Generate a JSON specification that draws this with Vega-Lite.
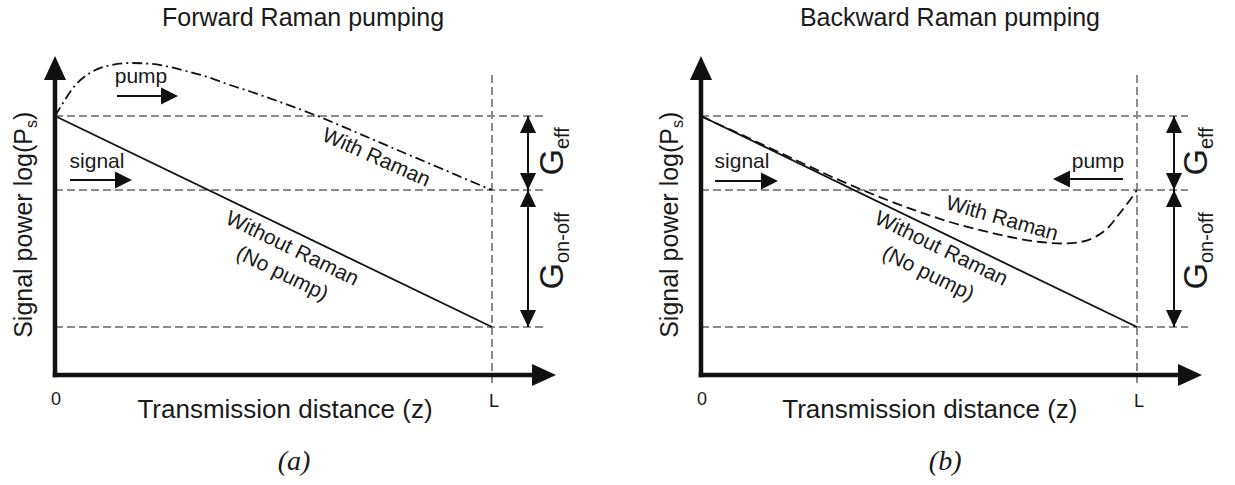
{
  "$schema": "https://vega.github.io/schema/vega-lite/v6.json",
  "background": "white",
  "padding": 0,
  "spacing": 0,
  "config": {"view": {"stroke": null}, "text": {"font": "Liberation Sans", "color": "#1a1a1a"}},
  "datasets": {
    "grid": [
      {"panel": "a", "x": 0, "y": 25.9, "x2": 1.117, "y2": 25.9},
      {"panel": "a", "x": 0, "y": 18.5, "x2": 1.117, "y2": 18.5},
      {"panel": "a", "x": 0, "y": 4.8, "x2": 1.117, "y2": 4.8},
      {"panel": "a", "x": 1, "y": 30, "x2": 1, "y2": -0.8},
      {"panel": "b", "x": 0, "y": 25.9, "x2": 1.117, "y2": 25.9},
      {"panel": "b", "x": 0, "y": 18.5, "x2": 1.117, "y2": 18.5},
      {"panel": "b", "x": 0, "y": 4.8, "x2": 1.117, "y2": 4.8},
      {"panel": "b", "x": 1, "y": 30, "x2": 1, "y2": -0.8}
    ],
    "curves": [
      {"panel": "a", "series": "without", "x": 0, "y": 25.9},
      {"panel": "a", "series": "without", "x": 1, "y": 4.8},
      {"panel": "a", "series": "with", "x": 0, "y": 25.9},
      {"panel": "a", "series": "with", "x": 0.0183, "y": 27.2},
      {"panel": "a", "series": "with", "x": 0.0412, "y": 28.7},
      {"panel": "a", "series": "with", "x": 0.08, "y": 30.2},
      {"panel": "a", "series": "with", "x": 0.119, "y": 30.9},
      {"panel": "a", "series": "with", "x": 0.1716, "y": 31.2},
      {"panel": "a", "series": "with", "x": 0.21, "y": 31.15},
      {"panel": "a", "series": "with", "x": 0.252, "y": 30.9},
      {"panel": "a", "series": "with", "x": 0.3, "y": 30.4},
      {"panel": "a", "series": "with", "x": 0.35, "y": 29.8},
      {"panel": "a", "series": "with", "x": 0.4, "y": 29.0},
      {"panel": "a", "series": "with", "x": 0.45, "y": 28.3},
      {"panel": "a", "series": "with", "x": 0.515, "y": 27.3},
      {"panel": "a", "series": "with", "x": 0.606, "y": 25.8},
      {"panel": "a", "series": "with", "x": 0.698, "y": 24.1},
      {"panel": "a", "series": "with", "x": 0.789, "y": 22.4},
      {"panel": "a", "series": "with", "x": 0.881, "y": 20.7},
      {"panel": "a", "series": "with", "x": 0.95, "y": 19.4},
      {"panel": "a", "series": "with", "x": 1.0, "y": 18.5},
      {"panel": "b", "series": "without", "x": 0, "y": 25.9},
      {"panel": "b", "series": "without", "x": 1, "y": 4.8},
      {"panel": "b", "series": "with", "x": 0, "y": 25.9},
      {"panel": "b", "series": "with", "x": 0.0436, "y": 25.0},
      {"panel": "b", "series": "with", "x": 0.0894, "y": 24.1},
      {"panel": "b", "series": "with", "x": 0.158, "y": 22.7},
      {"panel": "b", "series": "with", "x": 0.227, "y": 21.3},
      {"panel": "b", "series": "with", "x": 0.296, "y": 19.9},
      {"panel": "b", "series": "with", "x": 0.365, "y": 18.6},
      {"panel": "b", "series": "with", "x": 0.433, "y": 17.4},
      {"panel": "b", "series": "with", "x": 0.502, "y": 16.3},
      {"panel": "b", "series": "with", "x": 0.571, "y": 15.3},
      {"panel": "b", "series": "with", "x": 0.64, "y": 14.5},
      {"panel": "b", "series": "with", "x": 0.709, "y": 13.8},
      {"panel": "b", "series": "with", "x": 0.778, "y": 13.3},
      {"panel": "b", "series": "with", "x": 0.828, "y": 13.15},
      {"panel": "b", "series": "with", "x": 0.87, "y": 13.3},
      {"panel": "b", "series": "with", "x": 0.904, "y": 13.8},
      {"panel": "b", "series": "with", "x": 0.933, "y": 14.7},
      {"panel": "b", "series": "with", "x": 0.961, "y": 16.2},
      {"panel": "b", "series": "with", "x": 0.984, "y": 17.5},
      {"panel": "b", "series": "with", "x": 1.0, "y": 18.5}
    ],
    "strokes": [
      {"panel": "a", "kind": "axis", "x": 0, "y": -0.22, "x2": 0, "y2": 29.6},
      {"panel": "a", "kind": "axis", "x": -0.0052, "y": 0, "x2": 1.092, "y2": 0},
      {"panel": "a", "kind": "thin", "x": 1.0824, "y": 25.9, "x2": 1.0824, "y2": 4.8},
      {"panel": "a", "kind": "thin", "x": 0.1419, "y": 27.9, "x2": 0.262, "y2": 27.9},
      {"panel": "a", "kind": "thin", "x": 0.0343, "y": 19.5, "x2": 0.1568, "y2": 19.5},
      {"panel": "b", "kind": "axis", "x": 0, "y": -0.22, "x2": 0, "y2": 29.6},
      {"panel": "b", "kind": "axis", "x": -0.0052, "y": 0, "x2": 1.094, "y2": 0},
      {"panel": "b", "kind": "thin", "x": 1.0849, "y": 25.9, "x2": 1.0849, "y2": 4.8},
      {"panel": "b", "kind": "thin", "x": 0.0321, "y": 19.4, "x2": 0.1571, "y2": 19.4},
      {"panel": "b", "kind": "thin", "x": 0.9679, "y": 19.6, "x2": 0.8268, "y2": 19.6}
    ],
    "heads": [
      {"panel": "a", "head": "axis-up", "x": 0, "y": 30.7},
      {"panel": "a", "head": "axis-right", "x": 1.119, "y": 0},
      {"panel": "a", "head": "up", "x": 1.0824, "y": 25.05},
      {"panel": "a", "head": "down", "x": 1.0824, "y": 19.35},
      {"panel": "a", "head": "up", "x": 1.0824, "y": 17.65},
      {"panel": "a", "head": "down", "x": 1.0824, "y": 5.65},
      {"panel": "a", "head": "right", "x": 0.262, "y": 27.9},
      {"panel": "a", "head": "right", "x": 0.1568, "y": 19.5},
      {"panel": "b", "head": "axis-up", "x": 0, "y": 30.7},
      {"panel": "b", "head": "axis-right", "x": 1.1216, "y": 0},
      {"panel": "b", "head": "up", "x": 1.0849, "y": 25.05},
      {"panel": "b", "head": "down", "x": 1.0849, "y": 19.35},
      {"panel": "b", "head": "up", "x": 1.0849, "y": 17.65},
      {"panel": "b", "head": "down", "x": 1.0849, "y": 5.65},
      {"panel": "b", "head": "right", "x": 0.1571, "y": 19.4},
      {"panel": "b", "head": "left", "x": 0.8268, "y": 19.6}
    ],
    "labels": [
      {"panel": "a", "role": "title", "x": 0.5675, "y": 35.7, "text": "Forward Raman pumping"},
      {"panel": "a", "role": "xlabel", "x": 0.5263, "y": -3.5, "text": "Transmission distance (z)"},
      {"panel": "a", "role": "tick", "x": 0.0023, "y": -2.5, "text": "0"},
      {"panel": "a", "role": "tick", "x": 1.0046, "y": -2.7, "text": "L"},
      {"panel": "a", "role": "caption", "x": 0.547, "y": -8.7, "text": "(a)"},
      {"panel": "a", "role": "note", "x": 0.1968, "y": 29.8, "text": "pump"},
      {"panel": "a", "role": "note", "x": 0.0961, "y": 21.3, "text": "signal"},
      {"panel": "a", "role": "with", "x": 0.7346, "y": 21.7, "text": "With Raman"},
      {"panel": "a", "role": "without", "x": 0.5423, "y": 12.6, "text": "Without Raman"},
      {"panel": "a", "role": "without", "x": 0.5195, "y": 10.1, "text": "(No pump)"},
      {"panel": "a", "role": "ymain", "x": -0.0526, "y": 24.7, "text": "Signal power log(P"},
      {"panel": "a", "role": "ysub", "x": -0.0412, "y": 24.7, "text": "s"},
      {"panel": "a", "role": "yparen", "x": -0.0526, "y": 25.5, "text": ")"},
      {"panel": "a", "role": "G", "x": 1.1625, "y": 22.6, "text": "G"},
      {"panel": "a", "role": "Gsub", "x": 1.176, "y": 22.6, "text": "eff"},
      {"panel": "a", "role": "G", "x": 1.1625, "y": 11.2, "text": "G"},
      {"panel": "a", "role": "Gsub", "x": 1.176, "y": 11.2, "text": "on-off"},
      {"panel": "b", "role": "title", "x": 0.571, "y": 35.7, "text": "Backward Raman pumping"},
      {"panel": "b", "role": "xlabel", "x": 0.525, "y": -3.5, "text": "Transmission distance (z)"},
      {"panel": "b", "role": "tick", "x": 0.0023, "y": -2.5, "text": "0"},
      {"panel": "b", "role": "tick", "x": 1.0046, "y": -2.7, "text": "L"},
      {"panel": "b", "role": "caption", "x": 0.56, "y": -8.7, "text": "(b)"},
      {"panel": "b", "role": "note", "x": 0.9106, "y": 21.3, "text": "pump"},
      {"panel": "b", "role": "note", "x": 0.094, "y": 21.3, "text": "signal"},
      {"panel": "b", "role": "with", "x": 0.69, "y": 15.6, "text": "With Raman"},
      {"panel": "b", "role": "without", "x": 0.5505, "y": 12.6, "text": "Without Raman"},
      {"panel": "b", "role": "without", "x": 0.5206, "y": 10.1, "text": "(No pump)"},
      {"panel": "b", "role": "ymain", "x": -0.0528, "y": 24.7, "text": "Signal power log(P"},
      {"panel": "b", "role": "ysub", "x": -0.0413, "y": 24.7, "text": "s"},
      {"panel": "b", "role": "yparen", "x": -0.0528, "y": 25.5, "text": ")"},
      {"panel": "b", "role": "G", "x": 1.1606, "y": 22.6, "text": "G"},
      {"panel": "b", "role": "Gsub", "x": 1.1743, "y": 22.6, "text": "eff"},
      {"panel": "b", "role": "G", "x": 1.1606, "y": 11.2, "text": "G"},
      {"panel": "b", "role": "Gsub", "x": 1.1743, "y": 11.2, "text": "on-off"}
    ]
  },
  "hconcat": [
    {
      "width": 617,
      "height": 485,
      "encoding": {
        "x": {"field": "x", "type": "quantitative", "scale": {"domain": [-0.12586, 1.28604], "nice": false, "zero": false}, "axis": null},
        "y": {"field": "y", "type": "quantitative", "scale": {"domain": [-11, 37.5], "nice": false, "zero": false}, "axis": null}
      },
      "layer": [
        {"data": {"name": "grid"}, "transform": [{"filter": "datum.panel==='a'"}], "mark": {"type": "rule", "color": "#8c8c8c", "strokeWidth": 2, "strokeDash": [8, 4]}, "encoding": {"x2": {"field": "x2"}, "y2": {"field": "y2"}}},
        {"data": {"name": "curves"}, "transform": [{"filter": "datum.panel==='a' && datum.series==='without'"}], "mark": {"type": "line", "color": "#111111", "strokeWidth": 1.8}, "encoding": {}},
        {"data": {"name": "curves"}, "transform": [{"filter": "datum.panel==='a' && datum.series==='with'"}], "mark": {"type": "line", "color": "#111111", "strokeWidth": 1.8, "strokeDash": [10, 4, 2, 4], "interpolate": "monotone"}, "encoding": {}},
        {"data": {"name": "strokes"}, "transform": [{"filter": "datum.panel==='a' && datum.kind==='axis'"}], "mark": {"type": "rule", "color": "#111111", "strokeWidth": 4.5}, "encoding": {"x2": {"field": "x2"}, "y2": {"field": "y2"}}},
        {"data": {"name": "strokes"}, "transform": [{"filter": "datum.panel==='a' && datum.kind==='thin'"}], "mark": {"type": "rule", "color": "#111111", "strokeWidth": 2}, "encoding": {"x2": {"field": "x2"}, "y2": {"field": "y2"}}},
        {"data": {"name": "heads"}, "transform": [{"filter": "datum.panel==='a'"}], "mark": {"type": "point", "filled": true, "opacity": 1, "size": 576, "color": "#111111", "strokeWidth": 0},
          "encoding": {"shape": {"field": "head", "type": "nominal", "legend": null, "scale": {"domain": ["axis-up", "axis-right", "up", "down", "right", "left"], "range": ["M0,-1L0.92,1L-0.92,1Z", "M1,0L-1,-0.92L-1,0.92Z", "M0,-0.71L0.67,0.71L-0.67,0.71Z", "M0,0.71L0.67,-0.71L-0.67,-0.71Z", "M0.71,0L-0.71,-0.71L-0.71,0.71Z", "M-0.71,0L0.71,-0.71L0.71,0.71Z"]}}}},
        {"data": {"name": "labels"}, "transform": [{"filter": "datum.panel==='a' && datum.role==='title'"}], "mark": {"type": "text", "fontSize": 25, "align": "center", "baseline": "middle"}, "encoding": {"text": {"field": "text"}}},
        {"data": {"name": "labels"}, "transform": [{"filter": "datum.panel==='a' && datum.role==='xlabel'"}], "mark": {"type": "text", "fontSize": 26, "align": "center", "baseline": "middle"}, "encoding": {"text": {"field": "text"}}},
        {"data": {"name": "labels"}, "transform": [{"filter": "datum.panel==='a' && datum.role==='tick'"}], "mark": {"type": "text", "fontSize": 18, "align": "center", "baseline": "middle"}, "encoding": {"text": {"field": "text"}}},
        {"data": {"name": "labels"}, "transform": [{"filter": "datum.panel==='a' && datum.role==='caption'"}], "mark": {"type": "text", "font": "Liberation Serif", "fontStyle": "italic", "fontSize": 28, "align": "center", "baseline": "middle"}, "encoding": {"text": {"field": "text"}}},
        {"data": {"name": "labels"}, "transform": [{"filter": "datum.panel==='a' && datum.role==='note'"}], "mark": {"type": "text", "fontSize": 21, "align": "center", "baseline": "middle"}, "encoding": {"text": {"field": "text"}}},
        {"data": {"name": "labels"}, "transform": [{"filter": "datum.panel==='a' && datum.role==='with'"}], "mark": {"type": "text", "fontSize": 21, "align": "center", "baseline": "middle", "angle": 24}, "encoding": {"text": {"field": "text"}}},
        {"data": {"name": "labels"}, "transform": [{"filter": "datum.panel==='a' && datum.role==='without'"}], "mark": {"type": "text", "fontSize": 21, "align": "center", "baseline": "middle", "angle": 26}, "encoding": {"text": {"field": "text"}}},
        {"data": {"name": "labels"}, "transform": [{"filter": "datum.panel==='a' && datum.role==='ymain'"}], "mark": {"type": "text", "fontSize": 25, "align": "right", "baseline": "alphabetic", "angle": 270}, "encoding": {"text": {"field": "text"}}},
        {"data": {"name": "labels"}, "transform": [{"filter": "datum.panel==='a' && datum.role==='ysub'"}], "mark": {"type": "text", "fontSize": 16, "align": "left", "baseline": "alphabetic", "angle": 270}, "encoding": {"text": {"field": "text"}}},
        {"data": {"name": "labels"}, "transform": [{"filter": "datum.panel==='a' && datum.role==='yparen'"}], "mark": {"type": "text", "fontSize": 25, "align": "left", "baseline": "alphabetic", "angle": 270}, "encoding": {"text": {"field": "text"}}},
        {"data": {"name": "labels"}, "transform": [{"filter": "datum.panel==='a' && datum.role==='G'"}], "mark": {"type": "text", "fontSize": 34, "align": "right", "baseline": "alphabetic", "angle": 270}, "encoding": {"text": {"field": "text"}}},
        {"data": {"name": "labels"}, "transform": [{"filter": "datum.panel==='a' && datum.role==='Gsub'"}], "mark": {"type": "text", "fontSize": 20, "align": "left", "baseline": "alphabetic", "angle": 270}, "encoding": {"text": {"field": "text"}}}
      ]
    },
    {
      "width": 618,
      "height": 485,
      "encoding": {
        "x": {"field": "x", "type": "quantitative", "scale": {"domain": [-0.19266, 1.22477], "nice": false, "zero": false}, "axis": null},
        "y": {"field": "y", "type": "quantitative", "scale": {"domain": [-11, 37.5], "nice": false, "zero": false}, "axis": null}
      },
      "layer": [
        {"data": {"name": "grid"}, "transform": [{"filter": "datum.panel==='b'"}], "mark": {"type": "rule", "color": "#8c8c8c", "strokeWidth": 2, "strokeDash": [8, 4]}, "encoding": {"x2": {"field": "x2"}, "y2": {"field": "y2"}}},
        {"data": {"name": "curves"}, "transform": [{"filter": "datum.panel==='b' && datum.series==='without'"}], "mark": {"type": "line", "color": "#111111", "strokeWidth": 1.8}, "encoding": {}},
        {"data": {"name": "curves"}, "transform": [{"filter": "datum.panel==='b' && datum.series==='with'"}], "mark": {"type": "line", "color": "#111111", "strokeWidth": 1.8, "strokeDash": [10, 5], "interpolate": "monotone"}, "encoding": {}},
        {"data": {"name": "strokes"}, "transform": [{"filter": "datum.panel==='b' && datum.kind==='axis'"}], "mark": {"type": "rule", "color": "#111111", "strokeWidth": 4.5}, "encoding": {"x2": {"field": "x2"}, "y2": {"field": "y2"}}},
        {"data": {"name": "strokes"}, "transform": [{"filter": "datum.panel==='b' && datum.kind==='thin'"}], "mark": {"type": "rule", "color": "#111111", "strokeWidth": 2}, "encoding": {"x2": {"field": "x2"}, "y2": {"field": "y2"}}},
        {"data": {"name": "heads"}, "transform": [{"filter": "datum.panel==='b'"}], "mark": {"type": "point", "filled": true, "opacity": 1, "size": 576, "color": "#111111", "strokeWidth": 0},
          "encoding": {"shape": {"field": "head", "type": "nominal", "legend": null, "scale": {"domain": ["axis-up", "axis-right", "up", "down", "right", "left"], "range": ["M0,-1L0.92,1L-0.92,1Z", "M1,0L-1,-0.92L-1,0.92Z", "M0,-0.71L0.67,0.71L-0.67,0.71Z", "M0,0.71L0.67,-0.71L-0.67,-0.71Z", "M0.71,0L-0.71,-0.71L-0.71,0.71Z", "M-0.71,0L0.71,-0.71L0.71,0.71Z"]}}}},
        {"data": {"name": "labels"}, "transform": [{"filter": "datum.panel==='b' && datum.role==='title'"}], "mark": {"type": "text", "fontSize": 25, "align": "center", "baseline": "middle"}, "encoding": {"text": {"field": "text"}}},
        {"data": {"name": "labels"}, "transform": [{"filter": "datum.panel==='b' && datum.role==='xlabel'"}], "mark": {"type": "text", "fontSize": 26, "align": "center", "baseline": "middle"}, "encoding": {"text": {"field": "text"}}},
        {"data": {"name": "labels"}, "transform": [{"filter": "datum.panel==='b' && datum.role==='tick'"}], "mark": {"type": "text", "fontSize": 18, "align": "center", "baseline": "middle"}, "encoding": {"text": {"field": "text"}}},
        {"data": {"name": "labels"}, "transform": [{"filter": "datum.panel==='b' && datum.role==='caption'"}], "mark": {"type": "text", "font": "Liberation Serif", "fontStyle": "italic", "fontSize": 28, "align": "center", "baseline": "middle"}, "encoding": {"text": {"field": "text"}}},
        {"data": {"name": "labels"}, "transform": [{"filter": "datum.panel==='b' && datum.role==='note'"}], "mark": {"type": "text", "fontSize": 21, "align": "center", "baseline": "middle"}, "encoding": {"text": {"field": "text"}}},
        {"data": {"name": "labels"}, "transform": [{"filter": "datum.panel==='b' && datum.role==='with'"}], "mark": {"type": "text", "fontSize": 21, "align": "center", "baseline": "middle", "angle": 16}, "encoding": {"text": {"field": "text"}}},
        {"data": {"name": "labels"}, "transform": [{"filter": "datum.panel==='b' && datum.role==='without'"}], "mark": {"type": "text", "fontSize": 21, "align": "center", "baseline": "middle", "angle": 26}, "encoding": {"text": {"field": "text"}}},
        {"data": {"name": "labels"}, "transform": [{"filter": "datum.panel==='b' && datum.role==='ymain'"}], "mark": {"type": "text", "fontSize": 25, "align": "right", "baseline": "alphabetic", "angle": 270}, "encoding": {"text": {"field": "text"}}},
        {"data": {"name": "labels"}, "transform": [{"filter": "datum.panel==='b' && datum.role==='ysub'"}], "mark": {"type": "text", "fontSize": 16, "align": "left", "baseline": "alphabetic", "angle": 270}, "encoding": {"text": {"field": "text"}}},
        {"data": {"name": "labels"}, "transform": [{"filter": "datum.panel==='b' && datum.role==='yparen'"}], "mark": {"type": "text", "fontSize": 25, "align": "left", "baseline": "alphabetic", "angle": 270}, "encoding": {"text": {"field": "text"}}},
        {"data": {"name": "labels"}, "transform": [{"filter": "datum.panel==='b' && datum.role==='G'"}], "mark": {"type": "text", "fontSize": 34, "align": "right", "baseline": "alphabetic", "angle": 270}, "encoding": {"text": {"field": "text"}}},
        {"data": {"name": "labels"}, "transform": [{"filter": "datum.panel==='b' && datum.role==='Gsub'"}], "mark": {"type": "text", "fontSize": 20, "align": "left", "baseline": "alphabetic", "angle": 270}, "encoding": {"text": {"field": "text"}}}
      ]
    }
  ]
}
